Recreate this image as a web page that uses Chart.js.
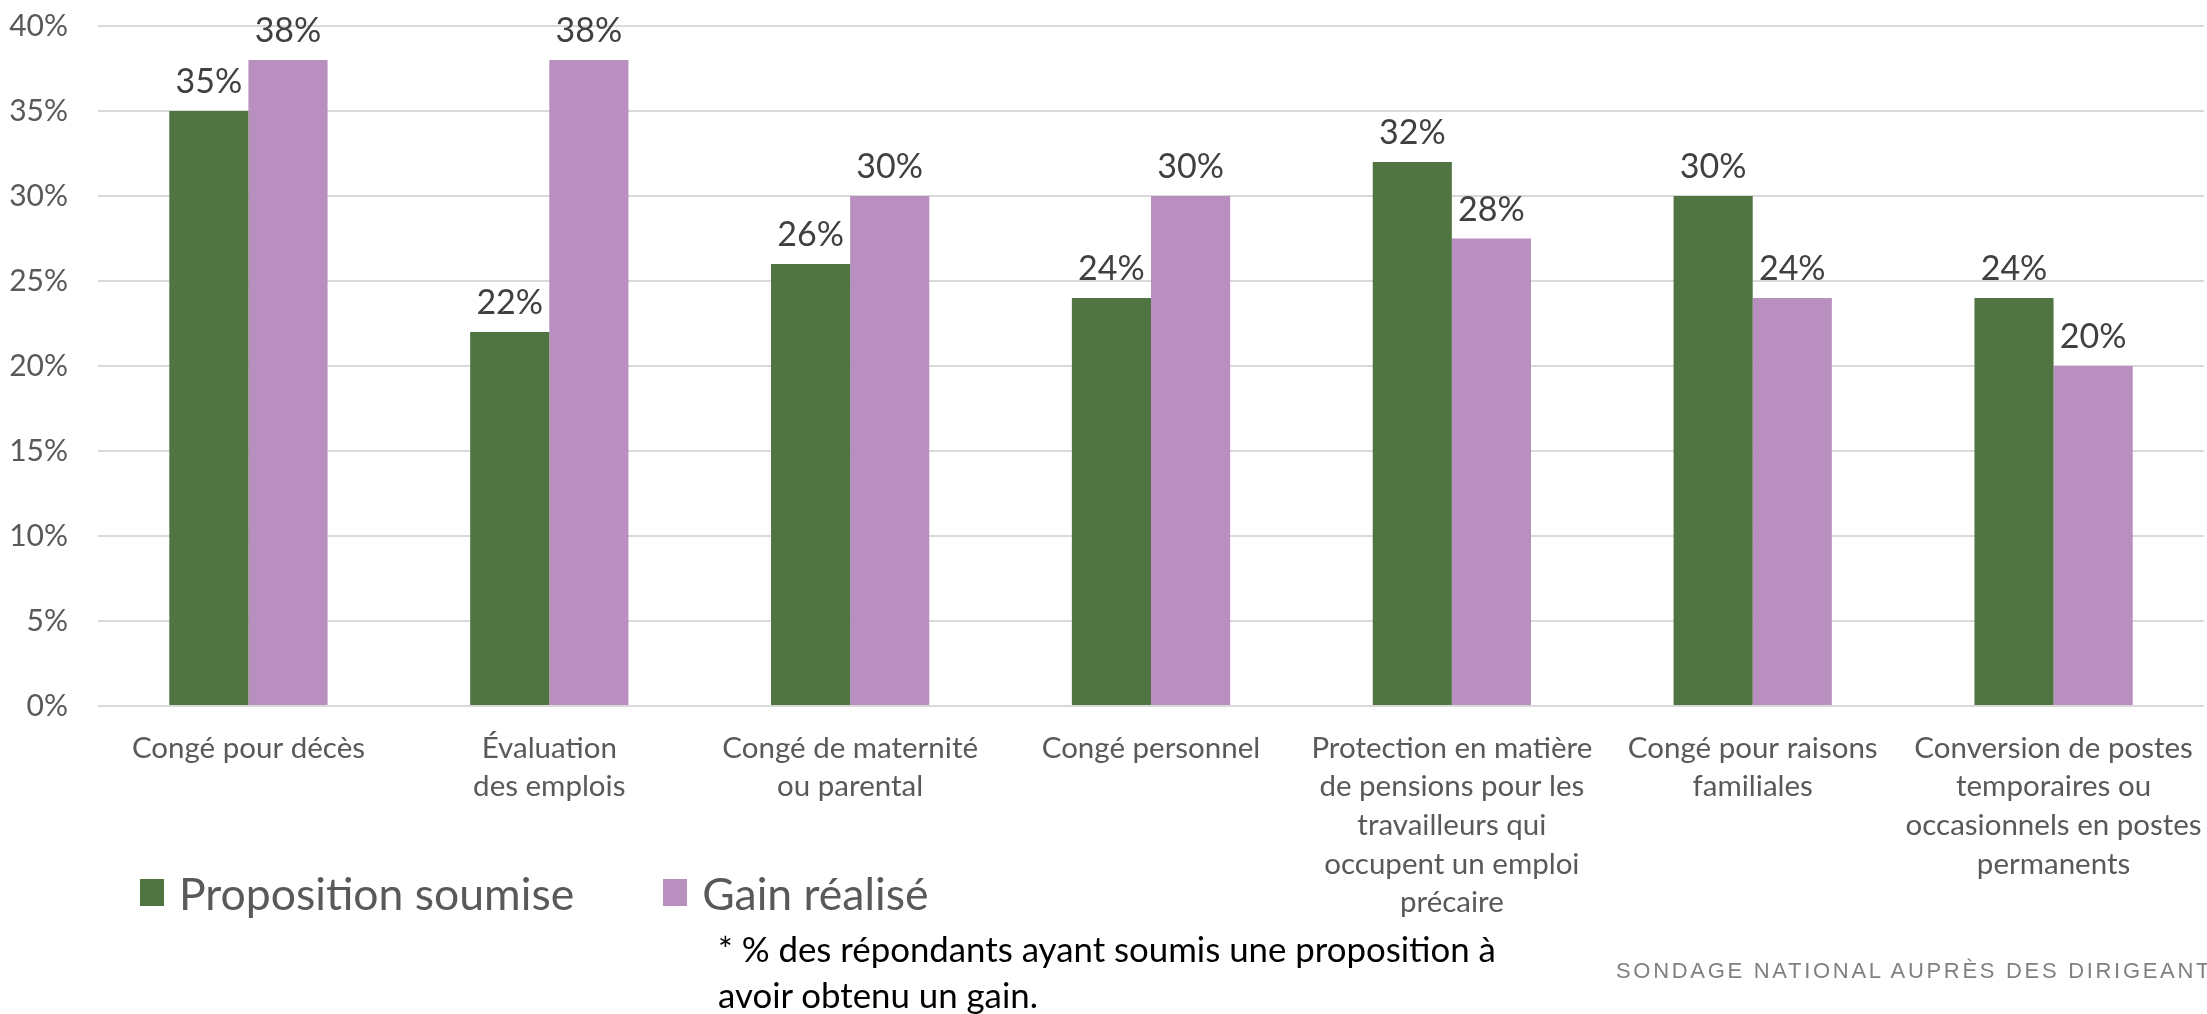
<!DOCTYPE html>
<html lang="fr">
<head>
<meta charset="utf-8">
<title>Propositions soumises et gains réalisés</title>
<script src="https://cdn.jsdelivr.net/npm/chart.js@4.4.1/dist/chart.umd.min.js"></script>
<style>
  html, body { margin: 0; padding: 0; background: #fff; overflow: hidden; }
  #wrap { position: relative; width: 2207px; height: 1014px; }
  #chart { position: absolute; left: 0; top: 0; }
  #legend { position: absolute; left: 140px; top: 866px; display: flex; font-family: Lato, sans-serif;
            font-size: 44.5px; color: #595959; }
  #legend .item { display: flex; align-items: center; margin-right: 89px; }
  #legend .box { width: 24px; height: 27px; margin-right: 15px; }
  #note { position: absolute; left: 718px; top: 926px; font-family: Lato, sans-serif; font-size: 34.8px;
          line-height: 46px; color: #000; }
  #source { position: absolute; left: 1616px; top: 958px; font-family: "Liberation Sans", Arial, sans-serif;
            font-size: 22px; letter-spacing: 2.7px; color: #808080; white-space: nowrap; }
</style>
</head>
<body>
<div id="wrap">
  <canvas id="chart"></canvas>
  <div id="legend"></div>
  <div id="note">* % des répondants ayant soumis une proposition à<br>avoir obtenu un gain.</div>
  <div id="source">SONDAGE NATIONAL AUPRÈS DES DIRIGEANTS</div>
</div>
<script>
// catégories (une ligne par élément de tableau)
const CATEGORIES = [
  'Congé pour décès',
  ['Évaluation', 'des emplois'],
  ['Congé de maternité', 'ou parental'],
  'Congé personnel',
  ['Protection en matière', 'de pensions pour les', 'travailleurs qui', 'occupent un emploi', 'précaire'],
  ['Congé pour raisons', 'familiales'],
  ['Conversion de postes', 'temporaires ou', 'occasionnels en postes', 'permanents']
];

const PROPOSITION = [35, 22, 26, 24, 32, 30, 24];
const GAIN        = [38, 38, 30, 30, 27.5, 24, 20];

const Y_TICKS = [0, 5, 10, 15, 20, 25, 30, 35, 40];

const GREEN  = '#507543';
const PURPLE = '#b98fc0';
const FONT   = 'Lato, sans-serif';

// étiquettes de valeur au-dessus des barres
const valueLabels = {
  id: 'valueLabels',
  afterDatasetsDraw (chart) {
    const ctx = chart.ctx;
    ctx.save();
    ctx.font = '34px ' + FONT;
    ctx.fillStyle = '#404040';
    ctx.textAlign = 'center';
    ctx.textBaseline = 'alphabetic';
    chart.data.datasets.forEach((ds, i) => {
      chart.getDatasetMeta(i).data.forEach((bar, j) => {
        ctx.fillText(Math.round(ds.data[j]) + '%', bar.x, bar.y - 18);
      });
    });
    ctx.restore();
  }
};

// légende HTML construite à partir des jeux de données
const htmlLegend = {
  id: 'htmlLegend',
  afterUpdate (chart) {
    const box = document.getElementById('legend');
    box.innerHTML = '';
    chart.data.datasets.forEach(ds => {
      const item = document.createElement('div');
      item.className = 'item';
      const sw = document.createElement('span');
      sw.className = 'box';
      sw.style.background = ds.backgroundColor;
      const txt = document.createElement('span');
      txt.textContent = ds.label;
      item.appendChild(sw);
      item.appendChild(txt);
      box.appendChild(item);
    });
  }
};

const canvas = document.getElementById('chart');
canvas.width = 2207;
canvas.height = 1014;

new Chart(canvas, {
  type: 'bar',
  data: {
    labels: CATEGORIES,
    datasets: [
      { label: 'Proposition soumise', data: PROPOSITION, backgroundColor: GREEN },
      { label: 'Gain réalisé',        data: GAIN,        backgroundColor: PURPLE }
    ]
  },
  options: {
    responsive: false,
    animation: false,
    layout: { padding: { top: 26, right: 3, left: 0, bottom: 0 } },
    datasets: { bar: { barPercentage: 1, categoryPercentage: 0.526 } },
    scales: {
      x: {
        grid: { display: false },
        border: { display: false },
        ticks: {
          font: { family: FONT, size: 29.5, lineHeight: 1.31 },
          color: '#595959',
          padding: 15,
          maxRotation: 0,
          autoSkip: false
        },
        afterFit (scale) {
          scale.height = 308;
          scale.paddingLeft = 0;
          scale.paddingRight = 0;
        }
      },
      y: {
        min: 0,
        max: 40,
        afterBuildTicks (scale) { scale.ticks = Y_TICKS.map(v => ({ value: v })); },
        grid: { color: '#d9d9d9', lineWidth: 2, drawTicks: false },
        border: { display: false },
        ticks: {
          font: { family: FONT, size: 30 },
          color: '#595959',
          padding: 30,
          callback: v => v + '%'
        },
        afterFit (scale) {
          scale.width = 98;
          scale.paddingTop = 0;
          scale.paddingBottom = 0;
        }
      }
    },
    plugins: {
      legend: { display: false },
      tooltip: { enabled: false }
    }
  },
  plugins: [valueLabels, htmlLegend]
});
</script>
</body>
</html>
